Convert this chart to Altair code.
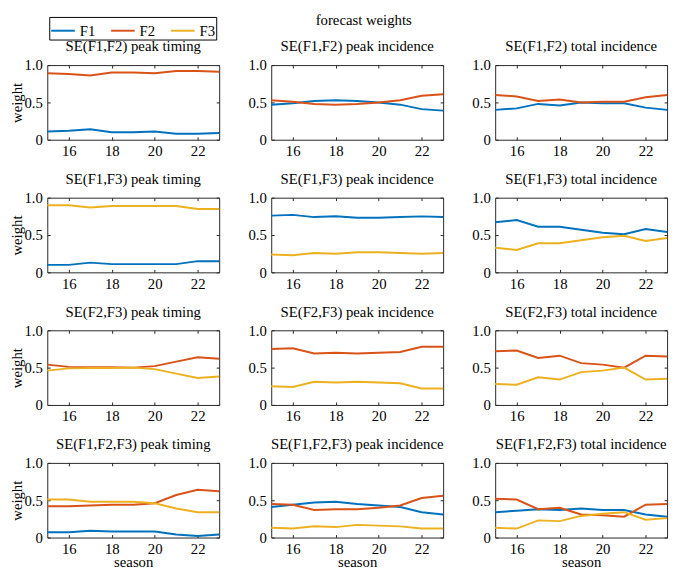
import altair as alt
import pandas as pd

seasons = [15, 16, 17, 18, 19, 20, 21, 22, 23]
series_names = ["F1", "F2", "F3"]
series_colors = ["#0072BD", "#D95319", "#EDB120"]
x_ticks = [16, 18, 20, 22]
y_ticks = [0, 0.5, 1.0]
main_title = "forecast weights"

titles = [
    "SE(F1,F2) peak timing", "SE(F1,F2) peak incidence", "SE(F1,F2) total incidence",
    "SE(F1,F3) peak timing", "SE(F1,F3) peak incidence", "SE(F1,F3) total incidence",
    "SE(F2,F3) peak timing", "SE(F2,F3) peak incidence", "SE(F2,F3) total incidence",
    "SE(F1,F2,F3) peak timing", "SE(F1,F2,F3) peak incidence", "SE(F1,F2,F3) total incidence",
]

# SE(F1,F2)
f12_pt_F1 = [0.11, 0.12, 0.14, 0.10, 0.10, 0.11, 0.08, 0.08, 0.09]
f12_pt_F2 = [0.89, 0.88, 0.86, 0.90, 0.90, 0.89, 0.92, 0.92, 0.91]
f12_pi_F1 = [0.47, 0.49, 0.52, 0.53, 0.52, 0.50, 0.47, 0.41, 0.39]
f12_pi_F2 = [0.53, 0.51, 0.48, 0.47, 0.48, 0.50, 0.53, 0.59, 0.61]
f12_ti_F1 = [0.40, 0.42, 0.48, 0.46, 0.50, 0.49, 0.49, 0.43, 0.40]
f12_ti_F2 = [0.60, 0.58, 0.52, 0.54, 0.50, 0.51, 0.51, 0.57, 0.60]
# SE(F1,F3)
f13_pt_F1 = [0.10, 0.10, 0.13, 0.11, 0.11, 0.11, 0.11, 0.15, 0.15]
f13_pt_F3 = [0.90, 0.90, 0.87, 0.89, 0.89, 0.89, 0.89, 0.85, 0.85]
f13_pi_F1 = [0.76, 0.77, 0.74, 0.75, 0.73, 0.73, 0.74, 0.75, 0.74]
f13_pi_F3 = [0.24, 0.23, 0.26, 0.25, 0.27, 0.27, 0.26, 0.25, 0.26]
f13_ti_F1 = [0.67, 0.70, 0.61, 0.61, 0.57, 0.53, 0.51, 0.58, 0.54]
f13_ti_F3 = [0.33, 0.30, 0.39, 0.39, 0.43, 0.47, 0.49, 0.42, 0.46]
# SE(F2,F3)
f23_pt_F2 = [0.54, 0.51, 0.505, 0.505, 0.50, 0.52, 0.58, 0.64, 0.62]
f23_pt_F3 = [0.46, 0.49, 0.495, 0.495, 0.50, 0.48, 0.42, 0.36, 0.38]
f23_pi_F2 = [0.75, 0.76, 0.69, 0.70, 0.69, 0.70, 0.71, 0.78, 0.78]
f23_pi_F3 = [0.25, 0.24, 0.31, 0.30, 0.31, 0.30, 0.29, 0.22, 0.22]
f23_ti_F2 = [0.72, 0.73, 0.63, 0.66, 0.56, 0.54, 0.50, 0.66, 0.65]
f23_ti_F3 = [0.28, 0.27, 0.37, 0.34, 0.44, 0.46, 0.50, 0.34, 0.35]
# SE(F1,F2,F3)
f123_pt_F1 = [0.07, 0.07, 0.09, 0.08, 0.08, 0.08, 0.04, 0.02, 0.04]
f123_pt_F2 = [0.42, 0.42, 0.43, 0.44, 0.44, 0.46, 0.57, 0.64, 0.62]
f123_pt_F3 = [0.51, 0.51, 0.48, 0.48, 0.48, 0.46, 0.39, 0.34, 0.34]
f123_pi_F1 = [0.41, 0.44, 0.47, 0.48, 0.45, 0.43, 0.41, 0.34, 0.31]
f123_pi_F2 = [0.45, 0.44, 0.37, 0.38, 0.38, 0.40, 0.43, 0.53, 0.56]
f123_pi_F3 = [0.13, 0.12, 0.15, 0.14, 0.17, 0.16, 0.15, 0.12, 0.12]
f123_ti_F1 = [0.34, 0.36, 0.38, 0.37, 0.39, 0.37, 0.37, 0.31, 0.28]
f123_ti_F2 = [0.52, 0.51, 0.38, 0.40, 0.31, 0.30, 0.28, 0.44, 0.45]
f123_ti_F3 = [0.13, 0.12, 0.23, 0.22, 0.29, 0.32, 0.34, 0.24, 0.26]

panel_series = [
    {"F1": f12_pt_F1, "F2": f12_pt_F2},
    {"F1": f12_pi_F1, "F2": f12_pi_F2},
    {"F1": f12_ti_F1, "F2": f12_ti_F2},
    {"F1": f13_pt_F1, "F3": f13_pt_F3},
    {"F1": f13_pi_F1, "F3": f13_pi_F3},
    {"F1": f13_ti_F1, "F3": f13_ti_F3},
    {"F2": f23_pt_F2, "F3": f23_pt_F3},
    {"F2": f23_pi_F2, "F3": f23_pi_F3},
    {"F2": f23_ti_F2, "F3": f23_ti_F3},
    {"F1": f123_pt_F1, "F2": f123_pt_F2, "F3": f123_pt_F3},
    {"F1": f123_pi_F1, "F2": f123_pi_F2, "F3": f123_pi_F3},
    {"F1": f123_ti_F1, "F2": f123_ti_F2, "F3": f123_ti_F3},
]

FONT = "Liberation Serif"
FRAME = "#262626"
W, H = 175, 76

xscale = alt.Scale(domain=[15, 23], nice=False, zero=False)
yscale = alt.Scale(domain=[0, 1], nice=False)
label_expr = "datum.value == 0 ? '0' : format(datum.value, '.1f')"


def make_panel(i):
    row, col = divmod(i, 3)
    rows = []
    for name, vals in panel_series[i].items():
        for s, v in zip(seasons, vals):
            rows.append({"season": s, "weight": v, "series": name})
    df = pd.DataFrame(rows)
    base = alt.Chart(df)
    lines = base.mark_line(strokeWidth=2).encode(
        x=alt.X("season:Q", scale=xscale,
                axis=alt.Axis(values=x_ticks, title="season" if row == 3 else None,
                              offset=-3, tickSize=3, domain=False, grid=False,
                              labelPadding=4, titlePadding=-2, format="d")),
        y=alt.Y("weight:Q", scale=yscale,
                axis=alt.Axis(values=y_ticks, title="weight" if col == 0 else None,
                              offset=-3, tickSize=3, domain=False, grid=False,
                              labelPadding=5, titlePadding=0, labelExpr=label_expr)),
        color=alt.Color("series:N",
                        scale=alt.Scale(domain=series_names, range=series_colors),
                        legend=alt.Legend(title=None, orient="none", direction="horizontal",
                                          legendX=2, legendY=-49, symbolType="stroke",
                                          symbolSize=576, symbolStrokeWidth=2,
                                          strokeColor="black", padding=1,
                                          labelFontSize=15, labelFont=FONT,
                                          columnPadding=12, labelOffset=4)),
    )
    mirror = base.mark_line(opacity=0).encode(
        x=alt.X("season:Q", scale=xscale,
                axis=alt.Axis(orient="top", values=x_ticks, title=None, labels=False,
                              offset=-3, tickSize=3, domain=False, grid=False)),
        y=alt.Y("weight:Q", scale=yscale,
                axis=alt.Axis(orient="right", values=y_ticks, title=None, labels=False,
                              offset=-3, tickSize=3, domain=False, grid=False)),
    )
    return alt.layer(lines, mirror).resolve_axis(x="independent", y="independent").properties(
        width=W, height=H,
        title=alt.TitleParams(titles[i], fontSize=15, font=FONT, fontWeight="normal", offset=4),
    )


panels = [make_panel(i) for i in range(12)]

chart = alt.concat(*panels, columns=3, spacing=alt.RowColnumber(row=59, column=53)).properties(
    bounds="flush",
    padding=0,
    title=alt.TitleParams(main_title, fontSize=15, font=FONT, fontWeight="normal",
                          anchor="middle", offset=-12, dx=24, color="black"),
).configure_view(stroke=FRAME, strokeWidth=1).configure_axis(
    labelFont=FONT, titleFont=FONT, labelFontSize=15, titleFontSize=15,
    titleFontWeight="normal", tickColor=FRAME, labelColor="black", titleColor="black",
)

chart.save("out.html", embed_options={"renderer": "svg", "actions": False})
